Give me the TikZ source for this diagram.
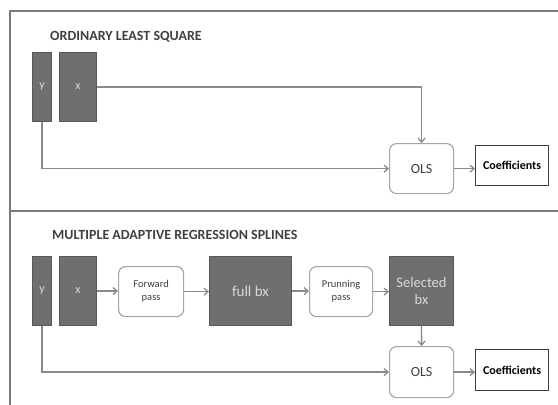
\documentclass[tikz,border=0pt]{standalone}
\usepackage{fontspec}
\setmainfont{Carlito}
\usetikzlibrary{arrows.meta}
\definecolor{darkfill}{HTML}{6F6F6F}
\definecolor{darkedge}{HTML}{595959}
\definecolor{boxtext}{HTML}{D9D9D9}
\definecolor{linegray}{HTML}{8A8A8A}
\definecolor{framegray}{HTML}{7A7A7A}
\definecolor{roundedge}{HTML}{A6A6A6}
\definecolor{titlegray}{HTML}{404040}
\tikzset{
  darkbox/.style={draw=darkedge, line width=1pt, fill=darkfill, text=boxtext, anchor=north west, inner sep=0pt, align=center},
  roundbox/.style={draw=roundedge, line width=1.2pt, rounded corners=7pt, fill=white, text=titlegray, anchor=north west, inner sep=0pt, align=center},
  coefbox/.style={draw=titlegray, line width=1.2pt, fill=white, anchor=north west, inner sep=0pt, font=\fontsize{12}{14}\selectfont\bfseries},
  conn/.style={draw=linegray, line width=1.4pt},
  arr/.style={conn, -{Straight Barb[length=4pt,width=7pt,line width=1.3pt]}},
  frame/.style={draw=framegray, line width=1.8pt},
  title/.style={anchor=west, text=titlegray, font=\fontsize{14}{16}\selectfont\bfseries, inner sep=0pt}
}
\begin{document}
\begin{tikzpicture}[x=1pt,y=-1pt]
\useasboundingbox (0,0) rectangle (558,405);
% frame
\draw[frame] (10,405) -- (10,11) -- (558,11);
\draw[frame] (10,211) -- (558,211);

% ---- top panel
\node[title] (t1) at (50,37) {ORDINARY LEAST SQUARE};
\node[darkbox, minimum width=19pt, minimum height=69pt, font=\fontsize{12}{14}\selectfont] (y1) at (32,52) {y};
\node[darkbox, minimum width=37pt, minimum height=69pt, font=\fontsize{12}{14}\selectfont] (x1) at (59,52) {x};
\node[roundbox, minimum width=64pt, minimum height=50pt, font=\fontsize{14}{16}\selectfont] (ols1) at (389,143) {OLS};
\node[coefbox, minimum width=73pt, minimum height=40pt] (c1) at (475,145) {Coefficients};
\draw[arr] (x1.east) -- (ols1.north |- x1.east) -- (ols1.north);
\draw[arr] (y1.south) |- (ols1.west);
\draw[arr] (ols1.east) -- (c1.west |- ols1.east);

% ---- bottom panel
\node[title] (t2) at (52,235) {MULTIPLE ADAPTIVE REGRESSION SPLINES};
\node[darkbox, minimum width=19pt, minimum height=69pt, font=\fontsize{12}{14}\selectfont] (y2) at (32,256) {y};
\node[darkbox, minimum width=37pt, minimum height=69pt, font=\fontsize{12}{14}\selectfont] (x2) at (59,256) {x};
\node[roundbox, minimum width=65pt, minimum height=50pt, font=\fontsize{10.5}{13}\selectfont] (fp) at (118,266) {Forward\\pass};
\node[darkbox, minimum width=82pt, minimum height=69pt, font=\fontsize{15}{17}\selectfont] (fb) at (209,256) {full bx};
\node[roundbox, minimum width=63pt, minimum height=50pt, font=\fontsize{10.5}{13}\selectfont] (pp) at (309,266) {Prunning\\pass};
\node[darkbox, minimum width=64pt, minimum height=69pt, font=\fontsize{14.5}{17}\selectfont] (sb) at (389,256) {Selected\\bx};
\node[roundbox, minimum width=64pt, minimum height=51pt, font=\fontsize{14}{16}\selectfont] (ols2) at (389,346) {OLS};
\node[coefbox, minimum width=73pt, minimum height=41pt] (c2) at (475,349) {Coefficients};
\draw[arr] (x2.east) -- (fp.west |- x2.east);
\draw[arr] (fp.east) -- (fb.west |- fp.east);
\draw[arr] (fb.east) -- (pp.west |- fb.east);
\draw[arr] (pp.east) -- (sb.west |- pp.east);
\draw[arr] (sb.south) -- (ols2.north);
\draw[arr] (y2.south) |- (ols2.west);
\draw[arr] (ols2.east) -- (c2.west |- ols2.east);
\end{tikzpicture}
\end{document}
